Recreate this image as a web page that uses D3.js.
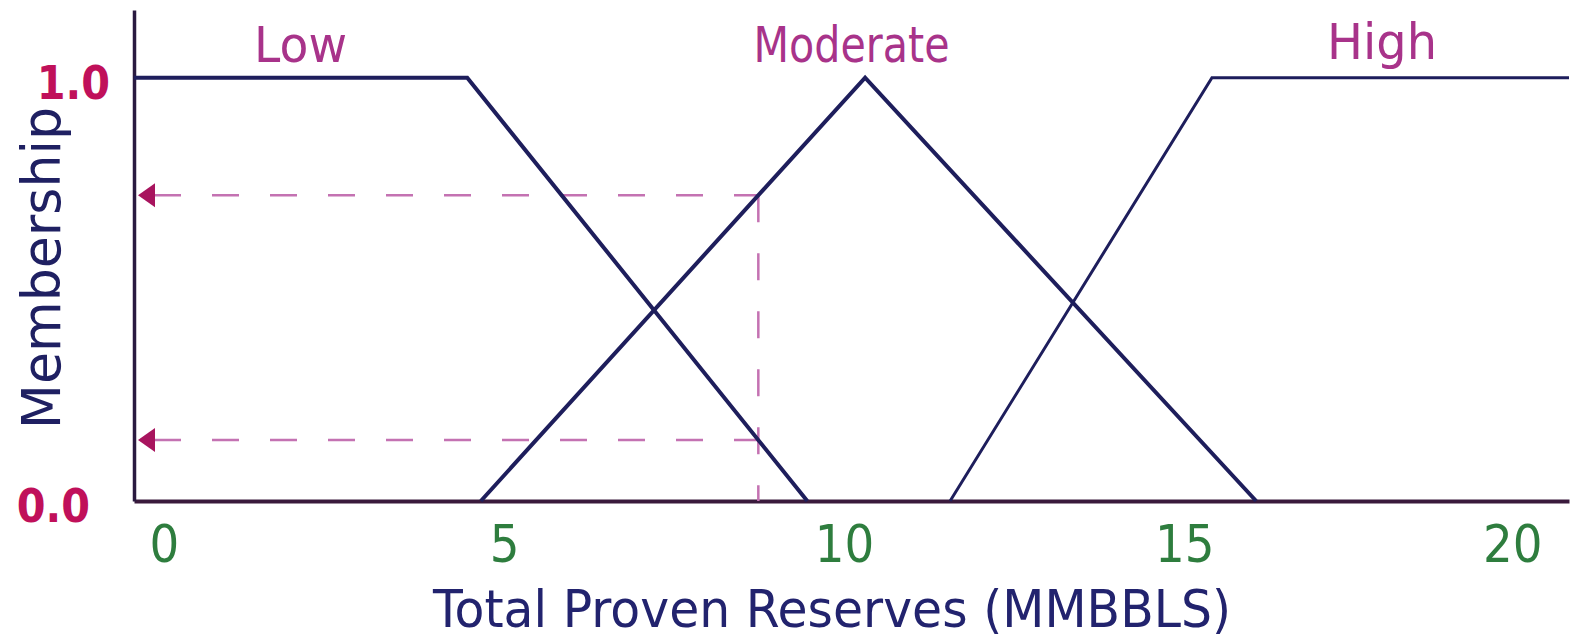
<!DOCTYPE html>
<html>
<head>
<meta charset="utf-8">
<script src="https://cdn.jsdelivr.net/npm/d3@7"></script>
<style>
  html, body { margin: 0; padding: 0; background: #ffffff; }
  svg { display: block; }
</style>
</head>
<body>
<svg id="chart" width="1570" height="640"></svg>
<script>
// Fuzzy membership sets for total proven reserves (MMBBLS)
const categories = ["Low", "Moderate", "High"];
const lowPoints = [[0, 1], [4.9, 1], [9.9, 0]];
const moderatePoints = [[5.1, 0], [10.75, 1], [16.5, 0]];
const highPoints = [[12.0, 0], [15.85, 1], [21.1, 1]];
const categoryLabelAt = [2.45, 10.55, 18.35];
const xTicks = [0, 5, 10, 15, 20];
const yTicks = [0, 1];
// crisp input value being fuzzified
const inputReserve = 9.18;

const svg = d3.select("#chart");

const x = d3.scaleLinear().domain([0, 21.1]).range([134, 1569]);
const y = d3.scaleLinear().domain([0, 1.16]).range([501, 10]);

const lineColor = "#1e1e5c";
const labelColor = "#a8338a";
const titleColor = "#22236e";

// membership degree of a value in a piecewise-linear set
function membership(points, v) {
  for (let i = 0; i < points.length - 1; i++) {
    const [x0, y0] = points[i], [x1, y1] = points[i + 1];
    if (v >= x0 && v <= x1) return y0 + (y1 - y0) * (v - x0) / (x1 - x0);
  }
  return 0;
}

// axes
const xAxis = d3.axisBottom(x).tickValues(xTicks).tickSize(0).tickSizeOuter(0).tickPadding(24);
const gx = svg.append("g").attr("transform", `translate(0,${y(0)})`).call(xAxis);
gx.select(".domain").attr("stroke", "#3a1a3c").attr("stroke-width", 4);
gx.selectAll(".tick text")
  .attr("dx", d => d === 20 ? 18 : 30)
  .attr("fill", "#2e7d3e")
  .style("font-family", "'DejaVu Sans Condensed', 'DejaVu Sans', sans-serif")
  .style("font-size", "52px");

const yAxis = d3.axisLeft(y).tickValues(yTicks).tickSize(0).tickSizeOuter(0).tickPadding(24).tickFormat(d3.format(".1f"));
const gy = svg.append("g").attr("transform", `translate(${x(0)},0)`).call(yAxis);
gy.select(".domain").attr("stroke", "#2a1a40").attr("stroke-width", 3.5);
gy.selectAll(".tick text")
  .attr("dy", "0.45em")
  .attr("dx", d => d === 0 ? -20 : 0)
  .attr("fill", "#c0105a")
  .style("font-family", "'DejaVu Sans Condensed', 'DejaVu Sans', sans-serif")
  .style("font-weight", "bold")
  .style("font-size", "46px");

// dashed guide lines from the input value to the membership axis
const readings = [membership(moderatePoints, inputReserve), membership(lowPoints, inputReserve)];
const guide = svg.append("g")
  .attr("stroke", "#c472b2")
  .attr("stroke-width", 2.5)
  .attr("stroke-dasharray", "27 31")
  .attr("fill", "none");

guide.append("line")
  .attr("x1", x(inputReserve)).attr("x2", x(inputReserve))
  .attr("y1", y(d3.max(readings))).attr("y2", y(0));

guide.selectAll("line.h")
  .data(readings)
  .join("line")
  .attr("class", "h")
  .attr("x1", x(0) + 20).attr("x2", x(inputReserve))
  .attr("y1", d => y(d)).attr("y2", d => y(d));

svg.selectAll("path.arrow")
  .data(readings)
  .join("path")
  .attr("class", "arrow")
  .attr("fill", "#a8145e")
  .attr("d", d => `M${x(0) + 4},${y(d)} L${x(0) + 21},${y(d) - 12} L${x(0) + 21},${y(d) + 12} Z`);

// membership functions
const line = d3.line().x(d => x(d[0])).y(d => y(d[1]));
const sets = [
  { pts: lowPoints, w: 4 },
  { pts: moderatePoints, w: 4 },
  { pts: highPoints, w: 3 }
];
svg.append("g")
  .selectAll("path")
  .data(sets)
  .join("path")
  .attr("d", d => line(d.pts))
  .attr("fill", "none")
  .attr("stroke", lineColor)
  .attr("stroke-width", d => d.w)
  .attr("stroke-linejoin", "miter");

// set names
const nameLengths = [93, 196, 110];
const nameBaselines = [62, 62, 59];
svg.append("g")
  .selectAll("text")
  .data(categories)
  .join("text")
  .attr("x", (d, i) => x(categoryLabelAt[i]))
  .attr("y", (d, i) => nameBaselines[i])
  .attr("text-anchor", "middle")
  .attr("textLength", (d, i) => nameLengths[i])
  .attr("lengthAdjust", "spacingAndGlyphs")
  .attr("fill", labelColor)
  .style("font-family", "'DejaVu Sans', sans-serif")
  .style("font-size", "50px")
  .text(d => d);

// axis titles
svg.append("text")
  .attr("x", 832)
  .attr("y", 627)
  .attr("text-anchor", "middle")
  .attr("textLength", 798)
  .attr("lengthAdjust", "spacingAndGlyphs")
  .attr("fill", titleColor)
  .style("font-family", "'DejaVu Sans', sans-serif")
  .style("font-size", "52px")
  .text("Total Proven Reserves (MMBBLS)");

svg.append("text")
  .attr("transform", "translate(60,268) rotate(-90)")
  .attr("text-anchor", "middle")
  .attr("textLength", 322)
  .attr("lengthAdjust", "spacingAndGlyphs")
  .attr("fill", "#1f2062")
  .style("font-family", "'DejaVu Sans', sans-serif")
  .style("font-size", "54px")
  .text("Membership");
</script>
</body>
</html>
